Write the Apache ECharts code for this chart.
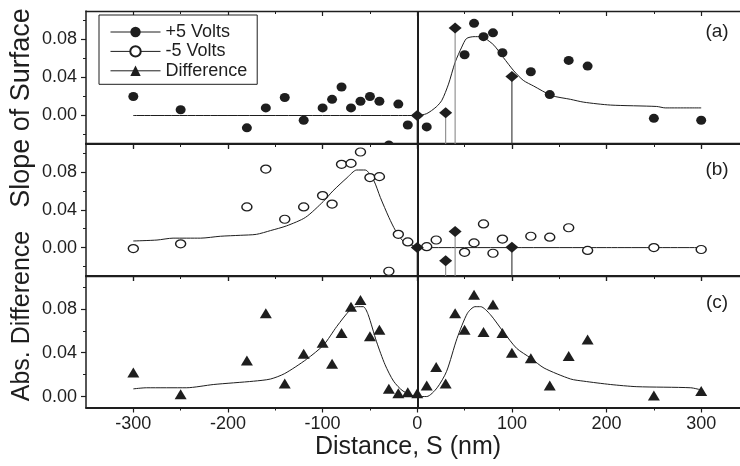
<!DOCTYPE html>
<html>
<head>
<meta charset="utf-8">
<script src="https://cdn.jsdelivr.net/npm/echarts@6/dist/echarts.min.js"></script>
<style>
  html, body { margin: 0; padding: 0; background: #fff; }
  #chart { width: 740px; height: 466px; }
</style>
</head>
<body>
<div id="chart"></div>
<script>
// Surface slope vs. distance for +5 V and -5 V bias, and their absolute difference.

// Tick positions
const xMajorTicks = [-300, -200, -100, 0, 100, 200, 300];
const xMinorTicks = [-250, -150, -50, 50, 150, 250];
const yMajorTicks = [0, 0.04, 0.08];
const yMinorTicksAB = [-0.02, 0.02, 0.06, 0.10];
const yMinorTicksC = [0.02, 0.06, 0.10];

// (a) +5 Volts measured slope
const plusX = [-300, -250, -180, -160, -140, -120, -100, -90, -80, -70, -60, -50, -40, -30, -20, -10, 10, 20, 50, 60, 70, 80, 90, 120, 140, 160, 180, 250, 300];
const plusY = [0.020, 0.006, -0.013, 0.008, 0.019, -0.005, 0.008, 0.017, 0.030, 0.008, 0.015, 0.020, 0.015, -0.031, 0.012, -0.010, -0.012, -0.035, 0.064, 0.097, 0.083, 0.087, 0.066, 0.046, 0.022, 0.058, 0.052, -0.003, -0.005];
// (a) fitted profile
const fitAX = [-300, -200, -100, -20, 0, 10, 20, 26, 33, 40, 47, 52, 60, 67, 72, 81, 91, 102, 112, 123, 142, 162, 176, 204, 253, 262, 300];
const fitAY = [0, 0, 0, 0, 0, 0.002, 0.009, 0.016, 0.033, 0.056, 0.072, 0.081, 0.083, 0.083, 0.081, 0.074, 0.061, 0.047, 0.037, 0.031, 0.021, 0.017, 0.014, 0.011, 0.0095, 0.008, 0.008];
// (a) highlighted points
const markAX = [0, 30, 40, 100];
const markAY = [0, 0.003, 0.092, 0.041];

// (b) -5 Volts measured slope
const minusX = [-300, -250, -180, -160, -140, -120, -100, -90, -80, -70, -60, -50, -40, -30, -20, -10, 10, 20, 50, 60, 70, 80, 90, 120, 140, 160, 180, 250, 300];
const minusY = [-0.001, 0.004, 0.043, 0.083, 0.030, 0.043, 0.055, 0.046, 0.088, 0.089, 0.101, 0.074, 0.075, -0.025, 0.014, 0.006, 0.001, 0.008, -0.005, 0.005, 0.025, -0.006, 0.009, 0.012, 0.011, 0.021, -0.003, 0.000, -0.002];
// (b) fitted profile
const fitBX = [-300, -275, -258, -229, -208, -187, -170, -155, -138, -118, -99, -89, -74, -64, -55, -46, -39, -30, -23, -15, -4, 0, 100, 200, 300];
const fitBY = [0.007, 0.008, 0.010, 0.010, 0.012, 0.013, 0.014, 0.018, 0.023, 0.032, 0.049, 0.060, 0.074, 0.082, 0.082, 0.071, 0.053, 0.032, 0.018, 0.007, 0.002, 0, 0, 0, 0];
// (b) highlighted points
const markBX = [0, 30, 40, 100];
const markBY = [0, -0.014, 0.017, 0.0005];

// (c) absolute difference
const diffX = [-300, -250, -180, -160, -140, -120, -100, -90, -80, -70, -60, -50, -40, -30, -20, -10, 0, 10, 20, 30, 40, 50, 60, 70, 80, 90, 100, 120, 140, 160, 180, 250, 300];
const diffY = [0.022, 0.002, 0.033, 0.076, 0.012, 0.039, 0.049, 0.030, 0.058, 0.082, 0.088, 0.055, 0.061, 0.007, 0.003, 0.004, 0.003, 0.010, 0.027, 0.012, 0.076, 0.061, 0.093, 0.059, 0.084, 0.058, 0.040, 0.035, 0.010, 0.037, 0.052, 0.001, 0.005];
// (c) fitted profile
const fitCX = [-300, -286, -244, -215, -173, -155, -140, -117, -99, -85, -71, -64, -57, -52, -43, -34, -25, -15, 0, 10, 21, 31, 42, 53, 61, 67, 77, 91, 105, 120, 134, 162, 176, 204, 232, 289, 300];
const fitCY = [0.007, 0.008, 0.008, 0.011, 0.014, 0.016, 0.021, 0.034, 0.047, 0.064, 0.079, 0.082, 0.082, 0.075, 0.050, 0.029, 0.014, 0.005, 0, 0, 0.008, 0.023, 0.053, 0.076, 0.082, 0.082, 0.075, 0.059, 0.044, 0.035, 0.026, 0.016, 0.014, 0.011, 0.009, 0.008, 0.006];

const zeroDistance = 0;

const INK = '#1e1e1e';
const FONT = '"Liberation Sans", Arial, Helvetica, sans-serif';
// x extent: the frame runs on past the right edge of the canvas
const xRange = [-350, 341];
const yRanges = [[-0.03, 0.11], [-0.03, 0.11], [-0.01, 0.11]];

const zip = (xs, ys) => xs.map((x, i) => [x, ys[i]]);

const grids = [
  { left: 86, width: 654, top: 11, height: 133 },
  { left: 86, width: 654, top: 143.5, height: 132.5 },
  { left: 86, width: 654, top: 276, height: 131.5 }
];

function xAxesFor(g, withLabels) {
  const base = { gridIndex: g, type: 'value', min: xRange[0], max: xRange[1], splitLine: { show: false } };
  return [
    Object.assign({}, base, {
      position: 'bottom',
      axisLine: { onZero: false, lineStyle: { color: INK, width: 2 } },
      axisTick: { customValues: xMajorTicks, length: 5, lineStyle: { color: INK, width: 1.2 } },
      axisLabel: withLabels ? { customValues: xMajorTicks, fontSize: 18, fontFamily: FONT, color: INK, margin: 8 } : { show: false }
    }),
    Object.assign({}, base, {
      position: 'bottom',
      axisLine: { show: false, onZero: false },
      axisTick: { customValues: xMinorTicks, length: 3, lineStyle: { color: INK, width: 1 } },
      axisLabel: { show: false }
    }),
    Object.assign({}, base, {
      position: 'top',
      axisLine: { onZero: false, lineStyle: { color: INK, width: 1.3 } },
      axisTick: { inside: true, customValues: xMajorTicks, length: 5, lineStyle: { color: INK, width: 1.2 } },
      axisLabel: { show: false }
    }),
    Object.assign({}, base, {
      position: 'top',
      axisLine: { show: false, onZero: false },
      axisTick: { inside: true, customValues: xMinorTicks, length: 3, lineStyle: { color: INK, width: 1 } },
      axisLabel: { show: false }
    })
  ];
}

function yAxesFor(g, minor) {
  const base = { gridIndex: g, type: 'value', min: yRanges[g][0], max: yRanges[g][1], position: 'left', splitLine: { show: false } };
  return [
    Object.assign({}, base, {
      axisLine: { show: true, onZero: false, lineStyle: { color: INK, width: 1.5 } },
      axisTick: { customValues: yMajorTicks, length: 5, lineStyle: { color: INK, width: 1.2 } },
      axisLabel: { customValues: yMajorTicks, formatter: v => v.toFixed(2), fontSize: 18, fontFamily: FONT, color: INK, margin: 9 }
    }),
    Object.assign({}, base, {
      axisLine: { show: false, onZero: false },
      axisTick: { customValues: minor, length: 3, lineStyle: { color: INK, width: 1 } },
      axisLabel: { show: false }
    })
  ];
}

const xAxes = [].concat(xAxesFor(0, false), xAxesFor(1, false), xAxesFor(2, true));
const yAxes = [].concat(yAxesFor(0, yMinorTicksAB), yAxesFor(1, yMinorTicksAB), yAxesFor(2, yMinorTicksC));

// axis indices for panel g
const ax = g => ({ xAxisIndex: 4 * g, yAxisIndex: 2 * g });

function fitSeries(g, xs, ys) {
  return Object.assign({
    type: 'line', data: zip(xs, ys), symbol: 'none', smooth: 0.25, z: 2,
    lineStyle: { color: INK, width: 1 }, silent: true,
    markLine: {
      silent: true, symbol: ['none', 'none'], label: { show: false },
      lineStyle: { color: INK, width: 2, type: 'solid' },
      data: [{ xAxis: zeroDistance }]
    }
  }, ax(g));
}

function stemSeries(g, xs, ys, colors) {
  return Object.assign({
    type: 'custom', data: zip(xs, ys), z: 3, silent: true,
    renderItem: (params, api) => {
      const p = api.coord([api.value(0), api.value(1)]);
      const cs = params.coordSys;
      return { type: 'line', shape: { x1: p[0], y1: p[1], x2: p[0], y2: cs.y + cs.height }, style: { stroke: colors[params.dataIndex], lineWidth: 1.1 } };
    }
  }, ax(g));
}

function diamondSeries(g, xs, ys) {
  return Object.assign({
    type: 'scatter', data: zip(xs, ys), symbol: 'diamond', symbolSize: [13, 11], z: 6,
    itemStyle: { color: INK, opacity: 1 }
  }, ax(g));
}

const stemColors = [INK, '#8a8a8a', '#8a8a8a', '#333'];

const series = [
  fitSeries(0, fitAX, fitAY),
  Object.assign({
    name: '+5 Volts', type: 'line', data: zip(plusX, plusY), symbol: 'circle', symbolSize: [10, 9],
    showSymbol: true, lineStyle: { width: 0 }, itemStyle: { color: INK }, z: 4
  }, ax(0)),
  // points falling just below the panel floor, clipped at the axis
  Object.assign({
    name: '+5 Volts', type: 'custom', clip: true, z: 4,
    data: zip(plusX, plusY).filter(p => p[1] < yRanges[0][0]),
    renderItem: (params, api) => {
      const p = api.coord([api.value(0), api.value(1)]);
      return { type: 'ellipse', shape: { cx: p[0], cy: p[1], rx: 5, ry: 4.5 }, style: { fill: INK } };
    }
  }, ax(0)),
  stemSeries(0, markAX, markAY, stemColors),
  diamondSeries(0, markAX, markAY),

  fitSeries(1, fitBX, fitBY),
  Object.assign({
    name: '-5 Volts', type: 'line', data: zip(minusX, minusY), symbol: 'circle', symbolSize: [10, 8],
    showSymbol: true, lineStyle: { width: 0 }, itemStyle: { color: '#fff', borderColor: INK, borderWidth: 1.3 }, z: 4
  }, ax(1)),
  stemSeries(1, markBX, markBY, stemColors),
  diamondSeries(1, markBX, markBY),

  fitSeries(2, fitCX, fitCY),
  Object.assign({
    name: 'Difference', type: 'line', data: zip(diffX, diffY), symbol: 'triangle', symbolSize: [12, 10],
    showSymbol: true, lineStyle: { width: 0 }, itemStyle: { color: INK }, z: 4
  }, ax(2))
];

const chart = echarts.init(document.getElementById('chart'), null, { renderer: 'canvas' });
chart.setOption({
  animation: false,
  backgroundColor: '#fff',
  grid: grids,
  xAxis: xAxes,
  yAxis: yAxes,
  legend: {
    data: ['+5 Volts', '-5 Volts', 'Difference'],
    orient: 'vertical', left: 99, top: 15,
    itemWidth: 50, itemHeight: 13, itemGap: 1.4,
    padding: [8, 10, 4.5, 11],
    borderColor: INK, borderWidth: 1, backgroundColor: '#fff',
    selectedMode: false,
    textStyle: { fontSize: 18, fontFamily: FONT, color: INK },
    lineStyle: { width: 1, color: INK, opacity: 1, type: 'solid' }
  },
  graphic: [
    { type: 'text', x: 717, y: 32, style: { text: '(a)', font: '19px ' + FONT, fill: INK, align: 'center', verticalAlign: 'middle' } },
    { type: 'text', x: 717, y: 170, style: { text: '(b)', font: '19px ' + FONT, fill: INK, align: 'center', verticalAlign: 'middle' } },
    { type: 'text', x: 717, y: 303, style: { text: '(c)', font: '19px ' + FONT, fill: INK, align: 'center', verticalAlign: 'middle' } },
    { type: 'text', x: 22, y: 108, rotation: Math.PI / 2, style: { text: 'Slope of Surface', font: '27px ' + FONT, fill: INK, align: 'center', verticalAlign: 'middle' } },
    { type: 'text', x: 22, y: 316, rotation: Math.PI / 2, style: { text: 'Abs. Difference', font: '25px ' + FONT, fill: INK, align: 'center', verticalAlign: 'middle' } },
    { type: 'text', x: 408, y: 447, style: { text: 'Distance, S (nm)', font: '25px ' + FONT, fill: INK, align: 'center', verticalAlign: 'middle' } }
  ],
  series: series
});
</script>
</body>
</html>
